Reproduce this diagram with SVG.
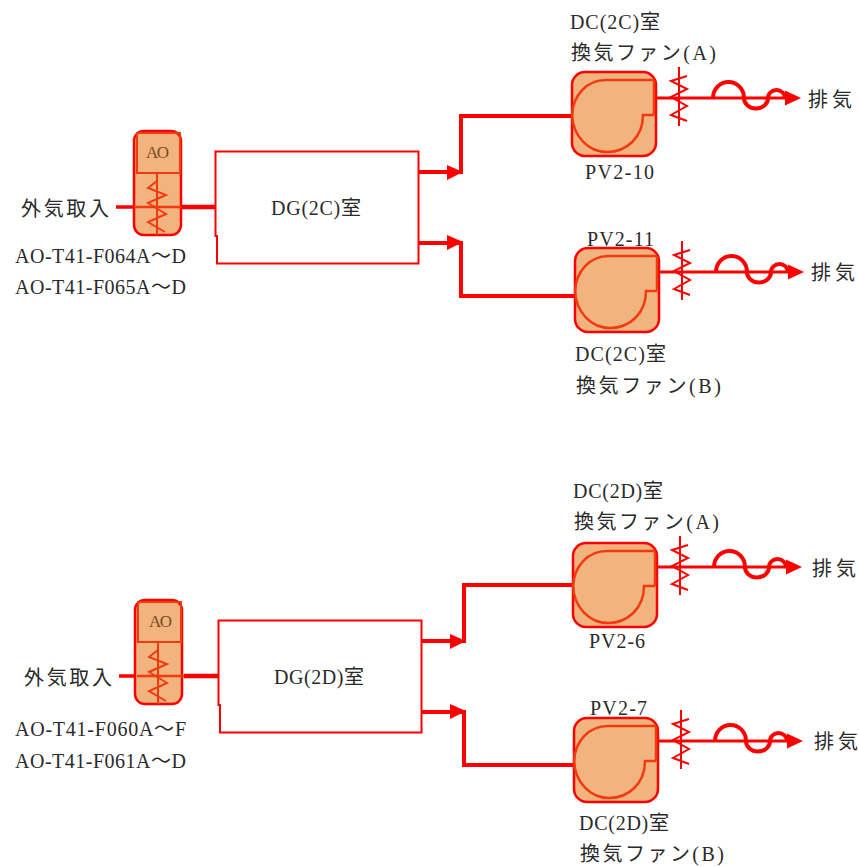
<svg xmlns="http://www.w3.org/2000/svg" width="859" height="867" viewBox="0 0 859 867">
<style>
text{font-family:"Liberation Serif","Noto Sans CJK JP",serif;font-size:20px;fill:#2a2a2a;font-weight:400}
text.ao{font-size:17px;fill:#7a4a20}
.box{fill:#f2b47f;stroke:#ff0000;stroke-width:2.5}
.inner{fill:none;stroke:#f23a10;stroke-width:2.5}
.thin{fill:none;stroke:#ff0000;stroke-width:2}
.pipe{fill:none;stroke:#ff0000;stroke-width:4;stroke-linejoin:miter}
.feed{fill:none;stroke:#ff0000;stroke-width:3.5}
.thick{fill:none;stroke:#ff0000;stroke-width:4.5}
.cross{fill:none;stroke:#f23a10;stroke-width:2.5}
.out{fill:none;stroke:#ff0000;stroke-width:3}
.wave{fill:none;stroke:#ff0000;stroke-width:4}
.room{fill:#fff;stroke:#ff0000;stroke-width:2}
.head{fill:#ff0000}
</style>
<defs>
<g id="fan">
<rect class="box" x="0" y="0" width="84" height="84" rx="13"/>
<path class="inner" d="M82 8H34C14 8 1 24 0 43C1 64 16 80 35 80C55 80 71 65 71 43H82M82 8V43"/>
</g>
<g id="exhaust">
<path class="out" d="M84 26H214"/>
<path class="head" d="M213 18.500L229 26L213 33.500Z"/>
<path class="thin" d="M107 -5V54M115 4L99 9L115 17L99 25L115 34L99 43L115 49"/>
<path class="wave" d="M141 26A15.500 16 0 0 1 172 26A12 10.500 0 0 0 196 26A8.500 8 0 0 1 213 26"/>
</g>
<g id="ao">
<rect class="box" x="0" y="0" width="47" height="104" rx="10"/>
<rect x="3" y="2" width="43" height="40" fill="none" stroke="#f23a10" stroke-width="2"/>
<path d="M23 42V104M23 50L14 57L32 64L14 72L32 83L14 91L31 101" fill="none" stroke="#f23a10" stroke-width="2"/>
</g>
</defs>

<g id="connectors">
<path class="feed" d="M116 207H134"/>
<path class="thick" d="M181 207H216"/>
<path class="pipe" d="M419 172H461V116H572"/>
<path class="head" d="M447 165L463 172L447 180Z"/>
<path class="pipe" d="M419 243H461V296H575"/>
<path class="head" d="M447 235L463 242L447 250Z"/>
<path class="feed" d="M119 676H137"/>
<path class="thick" d="M184 676H219"/>
<path class="pipe" d="M422 641H464V585H573"/>
<path class="head" d="M450 634L466 641L450 649Z"/>
<path class="pipe" d="M422 712H464V765H574"/>
<path class="head" d="M450 704L466 711L450 719Z"/>
<use href="#exhaust" x="572" y="72"/>
<use href="#exhaust" x="575" y="246"/>
<use href="#exhaust" x="573" y="541"/>
<use href="#exhaust" x="574" y="715"/>
</g>

<g id="ao-2c">
<use href="#ao" x="134" y="131"/>
<text class="ao" x="146" y="158" textLength="23">AO</text>
<path class="cross" d="M134 207H181"/>
<text x="21" y="216" textLength="88">外気取入</text>
<text x="15" y="263" textLength="171">AO-T41-F064A～D</text>
<text x="15" y="294" textLength="171">AO-T41-F065A～D</text>
</g>
<g id="room-2c">
<path class="room" d="M215.500 236V151.500H418.500V263.500H217V236Z"/>
<text x="271" y="215" textLength="90">DG(2C)室</text>
</g>
<g id="fan-2c-a">
<use href="#fan" x="572" y="72"/>
<text x="570" y="29" textLength="90">DC(2C)室</text>
<text x="571" y="60" textLength="145">換気ファン(A)</text>
<text x="585" y="179" textLength="69">PV2-10</text>
<text x="808" y="107" textLength="44">排気</text>
</g>
<g id="fan-2c-b">
<use href="#fan" x="575" y="248"/>
<text x="587" y="246" textLength="67">PV2-11</text>
<text x="575" y="361" textLength="91">DC(2C)室</text>
<text x="576" y="393" textLength="145">換気ファン(B)</text>
<text x="811" y="280" textLength="44">排気</text>
</g>

<g id="ao-2d">
<use href="#ao" x="135" y="600"/>
<text class="ao" x="149" y="627" textLength="23">AO</text>
<path class="cross" d="M137 676H184"/>
<text x="24" y="685" textLength="88">外気取入</text>
<text x="15" y="736" textLength="171">AO-T41-F060A～F</text>
<text x="15" y="768" textLength="171">AO-T41-F061A～D</text>
</g>
<g id="room-2d">
<path class="room" d="M218.500 705V620.500H421.500V732.500H220V705Z"/>
<text x="274" y="684" textLength="90">DG(2D)室</text>
</g>
<g id="fan-2d-a">
<use href="#fan" x="573" y="543"/>
<text x="573" y="498" textLength="90">DC(2D)室</text>
<text x="574" y="529" textLength="145">換気ファン(A)</text>
<text x="589" y="648" textLength="56">PV2-6</text>
<text x="812" y="576" textLength="44">排気</text>
</g>
<g id="fan-2d-b">
<use href="#fan" x="574" y="718"/>
<text x="590" y="715" textLength="57">PV2-7</text>
<text x="579" y="830" textLength="90">DC(2D)室</text>
<text x="580" y="861" textLength="144">換気ファン(B)</text>
<text x="814" y="749" textLength="44">排気</text>
</g>
</svg>
